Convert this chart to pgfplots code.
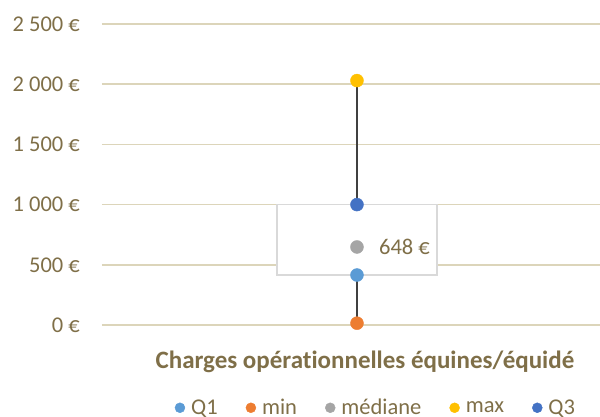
\documentclass[border=0pt]{standalone}
\usepackage{pgfplots}
\pgfplotsset{compat=1.18}
\usepackage{fontspec}
\setmainfont{Carlito}[Ligatures=NoCommon]
\definecolor{txt}{HTML}{7F6F48}
\definecolor{gridc}{HTML}{DCD5BA}
\definecolor{boxc}{HTML}{D9D9D9}
\definecolor{lin}{HTML}{404040}
\definecolor{cqone}{HTML}{5B9BD5}
\definecolor{cmin}{HTML}{ED7D31}
\definecolor{cmed}{HTML}{A5A5A5}
\definecolor{cmax}{HTML}{FFC000}
\definecolor{cqthree}{HTML}{4472C4}
\begin{document}
\begin{tikzpicture}[font=\fontsize{22.5}{26}\selectfont]
\useasboundingbox (-102pt,-92pt) rectangle (498pt,325pt);
\begin{axis}[
  name=ax, scale only axis, width=498pt, height=301pt,
  anchor=south west, at={(0pt,0pt)},
  xmin=0, xmax=2, ymin=0, ymax=2500,
  ytick={0,500,...,2500}, xtick=\empty,
  ymajorgrids, grid style={draw=gridc, line width=1.6pt},
  axis line style={draw=none}, major tick style={draw=none},
  yticklabel={\pgfmathprintnumber[assume math mode=true,1000 sep={\ }]{\tick}\ €},
  yticklabel style={anchor=east, inner sep=0pt, xshift=-22pt, text=txt},
  clip=false,
  legend columns=5,
  legend style={draw=none, fill=none, at={(0.548,-0.275)}, anchor=center,
    text=txt, font=\fontsize{22.5}{26}\selectfont,
    /tikz/every even column/.append style={column sep=28pt},
    nodes={inner sep=0pt}},
  legend image code/.code={\path (0pt,-5pt) (16pt,5pt); \draw[#1, mark size=5pt] plot coordinates {(5pt,0pt)};},
]
\addplot[forget plot, lin, line width=2pt] coordinates {(1.024,15) (1.024,2030)};
\addplot[forget plot, draw=boxc, fill=white, line width=1.8pt] coordinates {(0.703,415) (1.345,415) (1.345,1000) (0.703,1000)} -- cycle;
\addplot[only marks, mark=*, mark size=6.5pt, color=cqone] coordinates {(1.024,415)};
\addlegendentry{Q1}
\addplot[only marks, mark=*, mark size=6.5pt, color=cmin] coordinates {(1.024,15)};
\addlegendentry{min}
\addplot[only marks, mark=*, mark size=6.5pt, color=cmed] coordinates {(1.024,648)};
\addlegendentry{médiane}
\addplot[only marks, mark=*, mark size=6.5pt, color=cmax] coordinates {(1.024,2030)};
\addlegendentry{max}
\addplot[only marks, mark=*, mark size=6.5pt, color=cqthree] coordinates {(1.024,1000)};
\addlegendentry{Q3}
\node[anchor=west, inner sep=0pt, text=txt, xshift=22pt] at (axis cs:1.024,648) {648 €};
\node[anchor=center, text=txt, font=\fontsize{25}{29}\selectfont\bfseries] at (rel axis cs:0.528,-0.123) {Charges opérationnelles équines/équidé};
\end{axis}
\end{tikzpicture}
\end{document}
